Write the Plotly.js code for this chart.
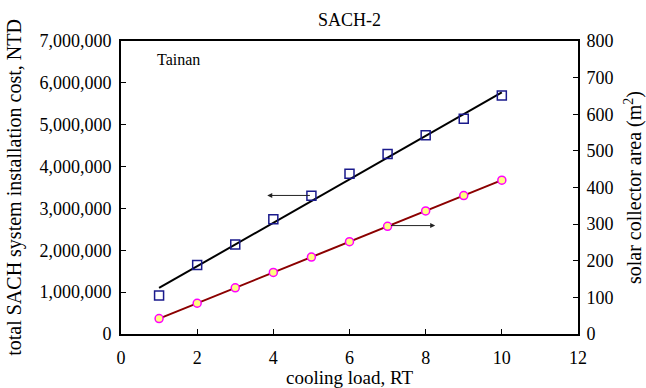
<!DOCTYPE html>
<html>
<head>
<meta charset="utf-8">
<script src="https://cdn.plot.ly/plotly-3.0.1.min.js"></script>
<style>html,body{margin:0;padding:0;background:#fff;}</style>
</head>
<body>
<div id="chart" style="width:646px;height:388px;"></div>
<script>
// cooling load, RT
const coolingLoad = [1, 2, 3, 4, 5, 6, 7, 8, 9, 10];
// total SACH system installation cost, NTD (squares, left axis)
const installCost = [920000, 1650000, 2140000, 2740000, 3300000, 3830000, 4300000, 4750000, 5140000, 5700000];
// fitted line for installation cost (endpoints)
const costFitLoad = [1, 10];
const costFitValue = [1100000, 5770000];
// solar collector area, m2 (circles, right axis)
const collectorArea = [42, 84, 126, 168, 210, 252, 294, 336, 378, 420];

const FONT = "'Liberation Serif', 'Times New Roman', Times, serif";

const traces = [
  {
    x: costFitLoad, y: costFitValue, type: 'scatter', mode: 'lines',
    line: {color: '#000000', width: 2}, yaxis: 'y', hoverinfo: 'skip', showlegend: false
  },
  {
    x: coolingLoad, y: installCost, type: 'scatter', mode: 'markers',
    marker: {symbol: 'square-open', size: 9, color: '#1a1a8c', line: {width: 1.5, color: '#1a1a8c'}},
    yaxis: 'y', showlegend: false
  },
  {
    x: coolingLoad, y: collectorArea, type: 'scatter', mode: 'lines+markers',
    line: {color: '#8b0000', width: 2},
    marker: {symbol: 'circle', size: 8, color: '#ffff80', line: {width: 1.5, color: '#ff00ff'}},
    yaxis: 'y2', showlegend: false
  }
];

const layout = {
  width: 646, height: 388,
  margin: {l: 121, r: 68, t: 41, b: 54},
  paper_bgcolor: '#ffffff', plot_bgcolor: '#ffffff',
  font: {family: FONT, size: 18, color: '#000000'},
  showlegend: false,
  title: {
    text: 'SACH-2', font: {family: FONT, size: 18, color: '#000'},
    x: 0.541, xanchor: 'center', y: 0.948, yanchor: 'middle'
  },
  xaxis: {
    range: [0, 12], dtick: 2, tick0: 0,
    showgrid: false, zeroline: false,
    showline: true, linecolor: '#000', linewidth: 2, mirror: true,
    ticks: 'inside', ticklen: 5, tickwidth: 1, tickcolor: '#000',
    ticklabelstandoff: 6,
    tickfont: {family: FONT, size: 18},
    title: {text: 'cooling load, RT', font: {family: FONT, size: 19}, standoff: 2}
  },
  yaxis: {
    range: [0, 7000000], dtick: 1000000, tick0: 0, tickformat: ',d',
    showgrid: false, zeroline: false,
    showline: true, linecolor: '#000', linewidth: 2,
    ticks: 'inside', ticklen: 5, tickwidth: 1, tickcolor: '#000',
    ticklabelstandoff: 4,
    tickfont: {family: FONT, size: 18},
    title: {text: 'total SACH system installation cost, NTD', font: {family: FONT, size: 20}, standoff: 12}
  },
  yaxis2: {
    range: [0, 800], dtick: 100, tick0: 0,
    overlaying: 'y', side: 'right',
    showgrid: false, zeroline: false,
    showline: true, linecolor: '#000', linewidth: 2,
    ticks: 'inside', ticklen: 5, tickwidth: 1, tickcolor: '#000',
    ticklabelstandoff: 3,
    tickfont: {family: FONT, size: 18},
    title: {text: 'solar collector area (m<sup>2</sup>)', font: {family: FONT, size: 20}, standoff: 16}
  },
  annotations: [
    {
      xref: 'x', yref: 'y', x: 0.9, y: 6550000, xanchor: 'left', yanchor: 'middle',
      text: 'Tainan', showarrow: false, font: {family: FONT, size: 16, color: '#000'}
    },
    {
      xref: 'x', yref: 'y', axref: 'x', ayref: 'y',
      x: 3.84, y: 3310000, ax: 5.0, ay: 3310000,
      text: '', showarrow: true, arrowhead: 2, arrowsize: 1, arrowwidth: 1, arrowcolor: '#222'
    },
    {
      xref: 'x', yref: 'y2', axref: 'x', ayref: 'y2',
      x: 8.25, y: 296, ax: 7.05, ay: 296,
      text: '', showarrow: true, arrowhead: 2, arrowsize: 1, arrowwidth: 1, arrowcolor: '#222'
    }
  ]
};

Plotly.newPlot('chart', traces, layout, {staticPlot: true, displayModeBar: false});
</script>
</body>
</html>
